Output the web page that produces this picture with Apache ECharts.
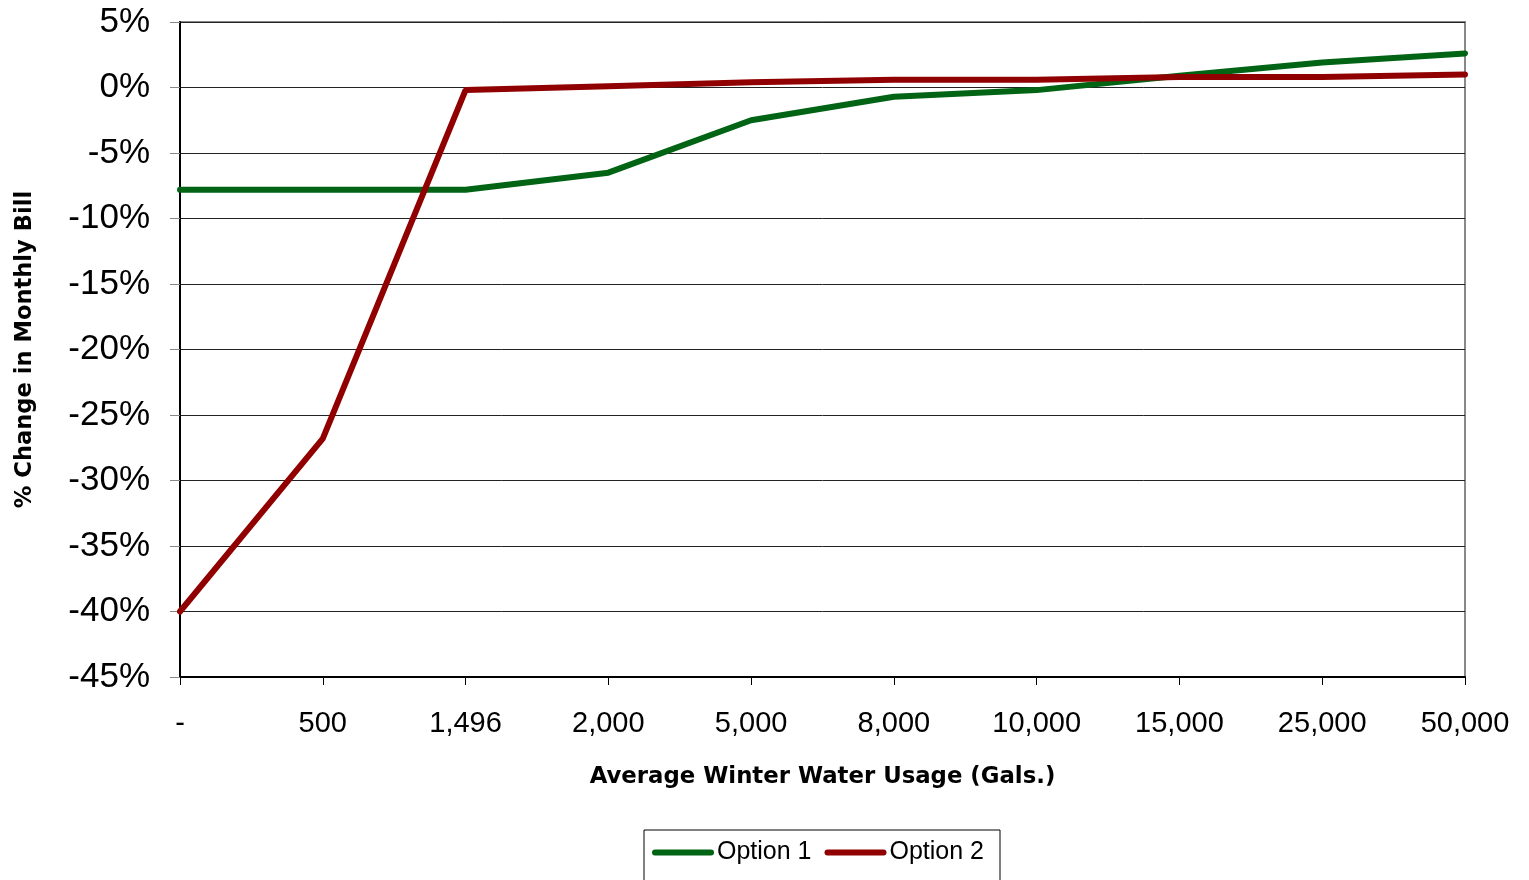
<!DOCTYPE html>
<html>
<head>
<meta charset="utf-8">
<script src="https://cdn.jsdelivr.net/npm/echarts@6/dist/echarts.min.js"></script>
<style>
html,body{margin:0;padding:0;background:#fff;}
#chart{width:1529px;height:880px;}
</style>
</head>
<body>
<div id="chart"></div>
<script>
const categories = ["-", "500", "1,496", "2,000", "5,000", "8,000", "10,000", "15,000", "25,000", "50,000"];
const option1 = [-7.8, -7.8, -7.8, -6.5, -2.5, -0.7, -0.2, 0.9, 1.9, 2.6];
const option2 = [-40.0, -26.8, -0.2, 0.1, 0.4, 0.6, 0.6, 0.8, 0.8, 1.0];
const seriesNames = ["Option 1", "Option 2"];
const colors = ["#006414", "#900000"];

const chart = echarts.init(document.getElementById('chart'));
const font = 'Liberation Sans, Arial, sans-serif';
const titleFont = 'DejaVu Sans, Verdana, sans-serif';
const legendIcon = 'path://M3,0 L59,0 A3,3 0 0 1 59,6 L3,6 A3,3 0 0 1 3,0 Z';
chart.setOption({
  animation: false,
  textStyle: { fontFamily: font },
  grid: { left: 180, right: 64, top: 22, bottom: 203, containLabel: false, outerBoundsMode: 'none', show: true, borderColor: '#888', borderWidth: 2, backgroundColor: 'transparent' },
  legend: {
    data: seriesNames.map(n => ({ name: n, icon: legendIcon })),
    left: 644, top: 830,
    padding: [10, 16, 30, 8],
    itemGap: 13,
    itemWidth: 62, itemHeight: 6,
    borderColor: '#000', borderWidth: 1,
    textStyle: { fontSize: 25, color: '#000', fontFamily: font, padding: [0, 0, 0, -2] }
  },
  xAxis: {
    type: 'category',
    data: categories,
    boundaryGap: false,
    name: 'Average Winter Water Usage (Gals.)',
    nameLocation: 'middle',
    nameGap: 89,
    nameTextStyle: { fontSize: 22.8, fontWeight: 'bold', color: '#000', fontFamily: titleFont },
    axisLine: { onZero: false, lineStyle: { color: '#000', width: 2 } },
    axisTick: { show: true, alignWithLabel: true, length: 8, lineStyle: { color: '#000', width: 1 } },
    axisLabel: { fontSize: 29, color: '#000', margin: 32, fontFamily: font },
    splitLine: { show: false }
  },
  yAxis: {
    type: 'value',
    min: -45, max: 5, interval: 5,
    name: '% Change in Monthly Bill',
    nameLocation: 'middle',
    nameGap: 143,
    nameTextStyle: { fontSize: 22.6, fontWeight: 'bold', color: '#000', fontFamily: titleFont },
    axisLine: { show: true, onZero: false, lineStyle: { color: '#000', width: 2 } },
    axisTick: { show: true, length: 10, lineStyle: { color: '#888', width: 1 } },
    axisLabel: { fontSize: 35, color: '#000', margin: 30, fontFamily: font, formatter: v => v + '%' },
    splitLine: { show: true, lineStyle: { color: '#222', width: 1 } }
  },
  series: [
    { name: seriesNames[0], type: 'line', data: option1, symbol: 'none', lineStyle: { color: colors[0], width: 6, cap: 'round' }, itemStyle: { color: colors[0] } },
    { name: seriesNames[1], type: 'line', data: option2, symbol: 'none', lineStyle: { color: colors[1], width: 6, cap: 'round' }, itemStyle: { color: colors[1] } }
  ]
});
</script>
</body>
</html>
